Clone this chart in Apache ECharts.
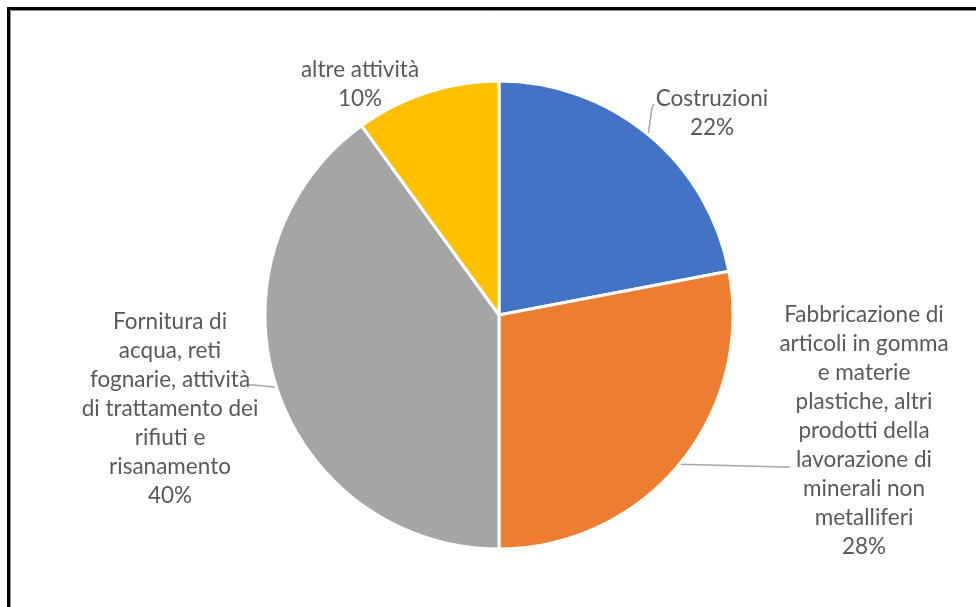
<!DOCTYPE html>
<html>
<head>
<meta charset="utf-8">
<script src="https://cdn.jsdelivr.net/npm/echarts@6/dist/echarts.min.js"></script>
<style>
  html, body { margin: 0; padding: 0; background: #fff; }
  #chart { width: 976px; height: 607px; }
</style>
</head>
<body>
<div id="chart"></div>
<script>
// Sector names (with their wrapped lines) and shares in percent
const categories = [
  'Costruzioni',
  'Fabbricazione di\narticoli in gomma\ne materie\nplastiche, altri\nprodotti della\nlavorazione di\nminerali non\nmetalliferi',
  'Fornitura di\nacqua, reti\nfognarie, attività\ndi trattamento dei\nrifiuti e\nrisanamento',
  'altre attività'
];
const shares = [22, 28, 40, 10];
const colors = ['#4472C4', '#ED7D31', '#A5A5A5', '#FFC000'];

// Where each label block sits (top-centre anchor), and the bend / end of its leader
const labelSpots = [
  { x: 712, y: 84.5,  bend: [652, 108], lineEnd: [654, 104] },
  { x: 864, y: 300.5, bend: [784, 467], lineEnd: [790, 467] },
  { x: 170, y: 307.5, bend: [254, 385], lineEnd: [248, 385] },
  { x: 360, y: 55.5,  bend: null, lineEnd: null }
];

const chart = echarts.init(document.getElementById('chart'));

chart.setOption({
  animation: false,
  color: colors,
  graphic: [
    { type: 'rect', silent: true, shape: { x: 8.5, y: 8.5, width: 1100, height: 1000 },
      style: { fill: 'none', stroke: '#000', lineWidth: 3 } },
    { type: 'rect', silent: true, shape: { x: 10.5, y: 10.5, width: 1100, height: 1000 },
      style: { fill: 'none', stroke: '#8c8c8c', lineWidth: 1 } }
  ],
  series: [{
    type: 'pie',
    center: [499, 315],
    radius: 234,
    startAngle: 90,
    clockwise: true,
    itemStyle: { borderColor: '#fff', borderWidth: 3 },
    label: {
      show: true,
      position: 'outside',
      formatter: '{b}\n{d}%',
      fontFamily: 'Lato',
      fontSize: 22.5,
      lineHeight: 29,
      color: '#595959',
      align: 'center'
    },
    labelLine: {
      show: true,
      length: 10,
      length2: 10,
      lineStyle: { color: '#a6a6a6', width: 1.5 }
    },
    labelLayout: function (params) {
      const s = labelSpots[params.dataIndex];
      const out = { x: s.x, y: s.y, align: 'center', verticalAlign: 'top' };
      const pts = params.labelLinePoints;
      if (s.lineEnd && pts && pts.length) {
        out.labelLinePoints = [pts[0], s.bend, s.lineEnd];
      }
      return out;
    },
    data: categories.map((name, i) => ({
      name: name,
      value: shares[i],
      labelLine: { show: labelSpots[i].lineEnd !== null }
    }))
  }]
});
</script>
</body>
</html>
